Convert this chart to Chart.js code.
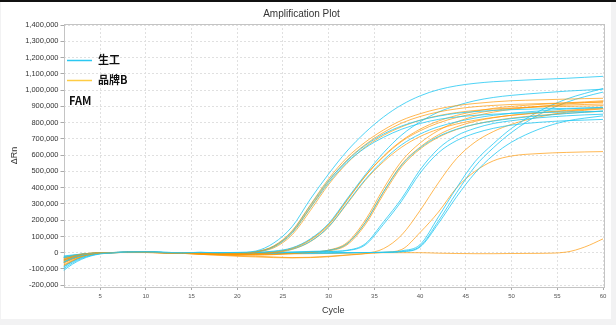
<!DOCTYPE html>
<html lang="zh">
<head>
<meta charset="UTF-8">
<title>Amplification Plot</title>
<script src="https://cdn.jsdelivr.net/npm/chart.js"></script>
<style>
  html, body { margin: 0; padding: 0; background: #f2f2f3; }
  #wrap { width: 616px; height: 325px; }
</style>
</head>
<body>
<div id="wrap"><canvas id="ampChart" width="616" height="325"></canvas></div>
<script>
const cycles = [1,2,3,4,5,6,8,10,12,14,16,18,20,22,24,26,28,30,32,34,36,38,40,42,44,46,48,50,53,56,58,60];
const xTicks = [5,10,15,20,25,30,35,40,45,50,55,60];
const yTicks = [-200000,-100000,0,100000,200000,300000,400000,500000,600000,700000,
                800000,900000,1000000,1100000,1200000,1300000,1400000];

// ΔRn in thousands, one array per well
// 生工
const sg1  = [-110,-70,-40,-20,-8,-2,3,5,2,0,2,0,2, 10,60,160,330,485,625,740,835,910,965,1003,1027,1042,1052,1058,1066,1073,1079,1085];
const sg2  = [-60,-35,-18,-8,-3,0,3,4,1,0,2,-1,0, 6,40,130,290,445,565,660,730,780,815,840,858,868,875,880,885,888,890,892];
const sg3  = [-20,-14,-8,-4,-1,1,2,3,0,-1,0,-2,0, 5,35,120,275,430,555,645,710,760,795,820,835,845,852,857,862,866,868,870];
const sg4  = [-90,-55,-30,-14,-5,0,4,6,2,0,1,-1,-1, 2,10,30,85,180,330,480,615,725,805,865,905,935,955,968,982,994,1000,1006];
const sg5  = [-30,-20,-12,-6,-2,0,2,3,1,-1,1,0,-2, 1,7,22,70,160,305,450,570,665,730,775,805,828,845,858,872,884,890,895];
const sg6  = [-100,-62,-35,-17,-6,-1,3,5,2,0,2,0,-1, 0,2,5,8,15,55,185,375,540,645,715,760,790,810,825,842,856,864,872];
const sg7  = [-55,-32,-16,-7,-2,0,3,4,1,0,1,-1,-2, -2,0,2,5,8,15,55,190,335,510,640,720,765,795,812,830,842,848,852];
const sg8  = [-25,-16,-9,-4,-1,1,2,3,0,-1,0,-2,-3, -3,-1,1,4,7,13,48,175,320,490,615,690,735,765,785,802,812,816,820];
const sg9  = [-85,-52,-28,-13,-4,0,4,5,2,0,1,-1,-2, -3,-4,-4,-3,-2,0,1,3,12,50,220,400,560,670,765,870,945,980,1010];
const sg10 = [-30,-20,-12,-6,-2,0,2,3,1,-1,1,0,-2, -2,-3,-3,-2,-1,0,1,2,8,40,195,370,530,645,740,850,925,960,988];
const sg11 = [-45,-28,-15,-7,-2,0,3,4,1,0,1,-1,-2, -2,-3,-3,-2,-1,0,1,2,6,35,180,345,490,600,680,760,810,828,842];
// 品牌B
const pb1  = [-80,-50,-25,-10,-3,0,2,3,1,0,-3,-5,-4, 6,42,135,295,455,585,680,755,815,855,885,905,918,928,935,940,945,948,950];
const pb2  = [-40,-22,-10,-4,0,1,2,2,0,-2,-4,-6,-4, 5,38,125,280,440,570,665,740,798,838,866,885,898,906,912,917,921,923,925];
const pb3  = [-65,-40,-20,-8,-2,0,2,3,0,-2,-6,-8,-6, 4,30,110,260,420,550,650,722,775,815,843,862,875,884,890,896,900,902,905];
const pb4  = [-50,-30,-16,-6,-1,1,2,2,0,-3,-8,-12,-12, -6,3,25,78,170,320,470,595,690,760,810,845,870,888,900,912,922,928,935];
const pb5  = [-30,-18,-8,-3,0,1,1,1,-1,-4,-10,-14,-14, -8,0,20,68,158,300,445,560,650,715,760,792,815,832,845,860,872,880,887];
const pb6  = [-75,-46,-23,-9,-3,0,2,3,1,0,-3,-5,-6, -2,6,28,82,175,325,472,590,685,750,798,832,857,875,888,900,908,912,915];
const pb7  = [-60,-36,-18,-7,-2,0,2,3,0,-2,-6,-10,-14, -15,-12,-6,2,14,55,185,375,545,650,725,775,808,830,846,862,876,884,892];
const pb8  = [-45,-25,-12,-5,-1,1,2,2,0,-2,-5,-8,-10, -10,-8,-3,5,12,48,172,360,530,638,710,758,790,812,828,845,858,864,870];
const pb9  = [-55,-33,-17,-7,-1,1,2,2,0,-3,-7,-11,-12, -12,-9,-4,3,16,62,200,395,565,675,752,805,840,865,882,900,915,923,930];
const pb10 = [-35,-20,-9,-3,0,1,1,1,-1,-4,-10,-16,-22, -26,-30,-32,-30,-25,-15,-5,25,110,260,430,580,680,745,790,835,865,876,885];
const pb11 = [-60,-38,-19,-8,-2,0,2,3,0,-2,-7,-12,-18, -22,-26,-30,-28,-22,-14,-6,2,20,125,250,400,500,565,595,610,617,620,622];
const pb12 = [-45,-26,-12,-5,-1,1,2,2,0,-2,-4,-6,-8, -8,-8,-7,-6,-5,-3,-1,0,0,0,-3,-5,-6,-6,-5,-4,4,35,85];

const shenggong = [sg1, sg2, sg3, sg4, sg5, sg6, sg7, sg8, sg9, sg10, sg11];
const brandB = [pb1, pb2, pb3, pb4, pb5, pb6, pb7, pb8, pb9, pb10, pb11, pb12];

const CYAN = 'rgba(35,200,242,0.8)';
const ORANGE = 'rgba(255,150,0,0.68)';
const FONT = '"Liberation Sans", Arial, sans-serif';
const CJK = '"Noto Sans CJK SC", "Noto Sans", sans-serif';

function toPoints(arr) {
    return cycles.map((c, i) => ({ x: c, y: arr[i] * 1000 }));
}
function fmt(v) {
    return String(v).replace(/\B(?=(\d{3})+(?!\d))/g, ',');
}

const datasets = [];
const n = Math.max(shenggong.length, brandB.length);
for (let i = 0; i < n; i++) {
    if (shenggong[i]) datasets.push({ label: '生工', data: toPoints(shenggong[i]), borderColor: CYAN });
    if (brandB[i]) datasets.push({ label: '品牌B', data: toPoints(brandB[i]), borderColor: ORANGE });
}

// grey page, white panel and black strip on top
const panelBg = {
    id: 'panelBg',
    beforeDraw(chart) {
        const c = chart.ctx;
        c.save();
        c.fillStyle = '#f2f2f3';
        c.fillRect(0, 0, 616, 325);
        c.fillStyle = '#ffffff';
        c.fillRect(1, 2, 610, 317);
        c.fillStyle = '#111111';
        c.fillRect(0, 0, 616, 2);
        c.restore();
    }
};

// solid frame round the plot
const plotFrame = {
    id: 'plotFrame',
    beforeDatasetsDraw(chart) {
        const a = chart.chartArea, c = chart.ctx;
        c.save();
        c.strokeStyle = '#c4c4c4';
        c.lineWidth = 1;
        c.strokeRect(Math.round(a.left) + 0.5, Math.round(a.top) + 0.5,
                     Math.round(a.right - a.left), Math.round(a.bottom - a.top));
        c.restore();
    }
};

// legend sitting inside the plot, plus the dye name
const innerLegend = {
    id: 'innerLegend',
    afterDraw(chart) {
        const c = chart.ctx;
        c.save();
        c.lineWidth = 1.5;
        c.strokeStyle = '#2bc8f2';
        c.beginPath(); c.moveTo(67, 60.5); c.lineTo(92, 60.5); c.stroke();
        c.strokeStyle = '#ffcc44';
        c.beginPath(); c.moveTo(67, 80.5); c.lineTo(92, 80.5); c.stroke();
        c.fillStyle = '#111';
        c.textBaseline = 'middle';
        c.font = 'bold 11px ' + CJK;
        c.fillText('生工', 98, 60);
        c.fillText('品牌B', 98, 80);
        c.fillText('FAM', 69, 101);
        c.restore();
    }
};

new Chart(document.getElementById('ampChart'), {
    type: 'line',
    data: { datasets: datasets },
    plugins: [panelBg, plotFrame, innerLegend],
    options: {
        responsive: false,
        animation: false,
        layout: { padding: { left: 0, right: 13, top: 0, bottom: 0 } },
        elements: {
            point: { radius: 0 },
            line: { borderWidth: 1, cubicInterpolationMode: 'monotone', fill: false }
        },
        plugins: {
            legend: { display: false },
            tooltip: { enabled: false },
            title: {
                display: true,
                text: 'Amplification Plot',
                color: '#333',
                font: { family: FONT, size: 10, weight: 'normal' },
                padding: { top: 8, bottom: 4 }
            }
        },
        scales: {
            x: {
                type: 'linear',
                min: 1,
                max: 60,
                afterBuildTicks: s => { s.ticks = xTicks.map(v => ({ value: v })); },
                afterFit: s => { s.height = 38; },
                ticks: { color: '#555', font: { family: FONT, size: 6 }, padding: 3, maxRotation: 0, autoSkip: false },
                grid: { color: '#e0e0e0', tickLength: 3, tickColor: '#aaa' },
                border: { display: false, dash: [2, 2] },
                title: { display: true, text: 'Cycle', color: '#333', font: { family: FONT, size: 9 }, padding: { top: 2, bottom: 9 } }
            },
            y: {
                type: 'linear',
                min: -211000,
                max: 1407000,
                afterBuildTicks: s => { s.ticks = yTicks.map(v => ({ value: v })); },
                afterFit: s => { s.width = 63.5; },
                ticks: { color: '#333', font: { family: FONT, size: 7.5 }, padding: 2, callback: v => fmt(v) },
                grid: { color: '#e0e0e0', tickLength: 3, tickColor: '#aaa' },
                border: { display: false, dash: [2, 2] },
                title: { display: true, text: 'ΔRn', color: '#333', font: { family: FONT, size: 9 }, padding: { top: 9, bottom: 0 } }
            }
        }
    }
});
</script>
</body>
</html>
